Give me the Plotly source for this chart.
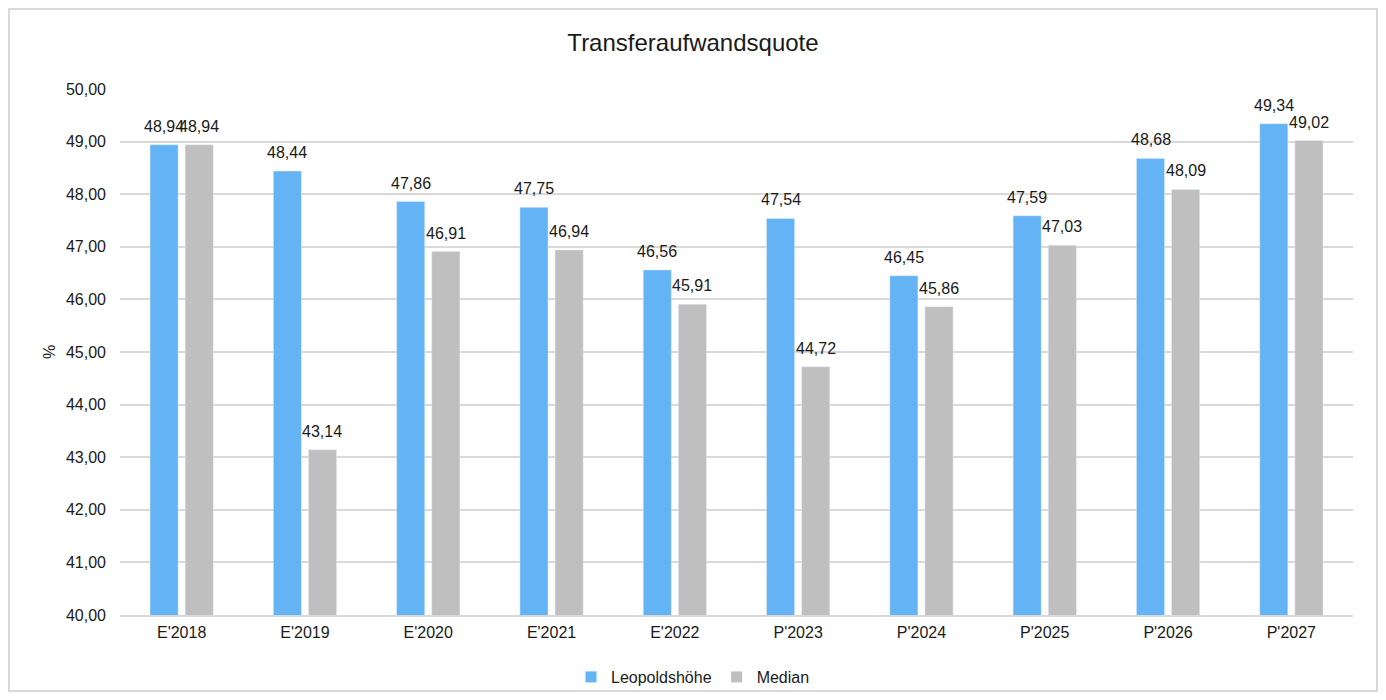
import plotly.graph_objects as go

categories = ["E'2018", "E'2019", "E'2020", "E'2021", "E'2022",
              "P'2023", "P'2024", "P'2025", "P'2026", "P'2027"]
leopoldshoehe = [48.94, 48.44, 47.86, 47.75, 46.56, 47.54, 46.45, 47.59, 48.68, 49.34]
median = [48.94, 43.14, 46.91, 46.94, 45.91, 44.72, 45.86, 47.03, 48.09, 49.02]

# page has an 8px body margin, so the figure is a bit smaller than the window
W, H = 1370, 684
ml, mr, mt, mb = 112, 25, 81, 77
font = "Liberation Sans, Arial, sans-serif"
txt = "#1a1a1a"
fs = 16

series = [("Leopoldshöhe", leopoldshoehe, "#63b3f5", -17.5),
          ("Median", median, "#bfbfbf", 17.5)]

fig = go.Figure()
for name, vals, col, dx in series:
    fig.add_trace(go.Bar(x=categories, y=vals, name=name, marker_color=col,
                         showlegend=False))
    for c, v in zip(categories, vals):
        fig.add_annotation(x=c, y=v, text=f"{v:.2f}".replace(".", ","),
                           showarrow=False, xshift=dx, yshift=8,
                           yanchor="bottom", font=dict(size=fs, color=txt))
# small square legend markers
for name, vals, col, dx in series:
    fig.add_trace(go.Scatter(x=[None], y=[None], mode="markers", name=name,
                             marker=dict(symbol="square", size=11, color=col)))

pw, ph = W - ml - mr, H - mt - mb
fig.add_shape(type="rect", xref="paper", yref="paper",
              x0=(1 - ml) / pw, x1=(W - 1 - ml) / pw,
              y0=-(H - 1 - mt - ph) / ph, y1=1 + (mt - 1) / ph,
              line=dict(color="#d9d9d9", width=2), layer="below")

fig.update_layout(
    width=W, height=H,
    margin=dict(l=ml, r=mr, t=mt, b=mb, autoexpand=False),
    separators=",.",
    plot_bgcolor="white", paper_bgcolor="white",
    font=dict(family=font, size=fs, color=txt),
    title=dict(text="Transferaufwandsquote", x=0.5, xanchor="center",
               y=1 - 26 / H, yanchor="top", yref="container",
               font=dict(size=24, color=txt)),
    barmode="group", bargap=0.43, bargroupgap=0.2,
    legend=dict(orientation="h", xref="container", x=0.5, xanchor="center",
                yref="container", y=(700 - 677 - 8) / H, yanchor="middle",
                bgcolor="rgba(0,0,0,0)",
                font=dict(size=fs), itemwidth=30, traceorder="normal"),
    showlegend=True,
)
fig.update_xaxes(showline=True, linecolor="#d9d9d9", linewidth=2,
                 ticks="", tickfont=dict(size=fs), ticklabelstandoff=2,
                 automargin=False)
fig.update_yaxes(range=[40, 50], dtick=1, tickformat=".2f",
                 gridcolor="#d9d9d9", gridwidth=1.5, zeroline=False,
                 title=dict(text="%", standoff=6, font=dict(size=fs)),
                 tickfont=dict(size=fs), ticklabelstandoff=13, automargin=False)

fig.write_html("out.html")
